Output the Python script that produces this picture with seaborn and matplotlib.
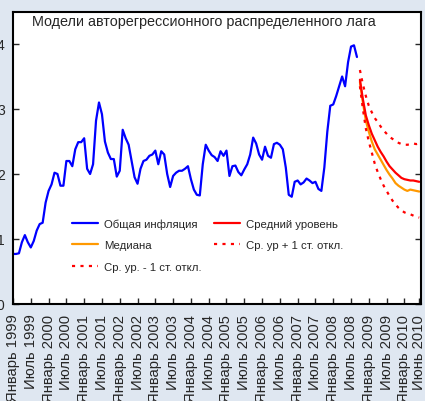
import numpy as np
import pandas as pd
import matplotlib
matplotlib.use("Agg")
import matplotlib.pyplot as plt
import seaborn as sns

# --- Данные (оценены по картинке) ---

month_names = ["Январь", "Июль"]
years = list(range(1999, 2011))

# Общая инфляция, январь 1999 - сентябрь 2008
total_inflation = [
    0.77, 0.77, 0.78, 0.95, 1.06, 0.95, 0.87, 0.97, 1.13, 1.23, 1.25, 1.56,
    1.74, 1.84, 2.02, 2.00, 1.82, 1.82, 2.20, 2.20, 2.12, 2.38, 2.49, 2.49,
    2.55, 2.08, 2.00, 2.15, 2.82, 3.10, 2.92, 2.50, 2.33, 2.23, 2.23, 1.96,
    2.05, 2.68, 2.55, 2.45, 2.20, 1.95, 1.85, 2.08, 2.20, 2.22, 2.28, 2.30,
    2.36, 2.15, 2.35, 2.30, 2.00, 1.80, 1.97, 2.02, 2.05, 2.05, 2.08, 2.12,
    1.92, 1.76, 1.68, 1.67, 2.15, 2.45, 2.36, 2.29, 2.26, 2.20, 2.35, 2.28,
    2.36, 1.97, 2.12, 2.13, 2.03, 1.98, 2.07, 2.15, 2.30, 2.56, 2.47, 2.30,
    2.22, 2.42, 2.28, 2.25, 2.46, 2.48, 2.45, 2.38, 2.10, 1.68, 1.65, 1.88,
    1.90, 1.84, 1.87, 1.93, 1.90, 1.86, 1.88, 1.77, 1.74, 2.10, 2.65, 3.05,
    3.07, 3.20, 3.35, 3.50, 3.35, 3.72, 3.96, 3.98, 3.80,
]

# Прогнозы, октябрь 2008 - июнь 2010
mean_level = [
    3.45, 3.15, 2.90, 2.75, 2.62, 2.52, 2.42, 2.34, 2.27, 2.19, 2.12,
    2.07, 2.02, 1.98, 1.94, 1.92, 1.91, 1.90, 1.90, 1.89, 1.88,
]
median_level = [
    3.42, 3.10, 2.82, 2.65, 2.50, 2.38, 2.30, 2.22, 2.14, 2.06, 1.99,
    1.93, 1.86, 1.82, 1.79, 1.76, 1.74, 1.76, 1.75, 1.74, 1.73,
]
upper_level = [
    3.60, 3.38, 3.20, 3.05, 2.95, 2.86, 2.80, 2.73, 2.67, 2.62, 2.57,
    2.54, 2.51, 2.48, 2.46, 2.45, 2.45, 2.46, 2.47, 2.46, 2.47,
]
lower_level = [
    3.35, 3.00, 2.70, 2.50, 2.33, 2.16, 2.03, 1.92, 1.82, 1.74, 1.66,
    1.59, 1.53, 1.48, 1.44, 1.41, 1.39, 1.38, 1.36, 1.34, 1.33,
]

# Подписи оси X: каждые полгода + июнь 2010
tick_pos = list(range(0, 133, 6)) + [137]
tick_labels = [f"{month_names[(p // 6) % 2]} {1999 + p // 12}" for p in range(0, 133, 6)] + ["Июнь 2010"]

# --- Таблицы ---
hist = pd.DataFrame({"month": np.arange(len(total_inflation)), "value": total_inflation})
fc_start = len(total_inflation)
fc = pd.DataFrame({
    "month": np.arange(fc_start, fc_start + len(mean_level)),
    "mean": mean_level,
    "median": median_level,
    "upper": upper_level,
    "lower": lower_level,
})

# --- График ---
sns.set_style("ticks")
plt.rcParams["font.family"] = ["Liberation Sans", "DejaVu Sans"]

fig = plt.figure(figsize=(4.25, 4.02), dpi=100)
fig.patch.set_facecolor("#dfe7f1")
ax = fig.add_axes([13 / 425, 97 / 402, 408 / 425, 292.5 / 402])
ax.set_facecolor("white")

dots = (0, (1.4, 2.4))
sns.lineplot(data=hist, x="month", y="value", ax=ax, color="#0000ff", lw=1.6,
             label="Общая инфляция")
sns.lineplot(data=fc, x="month", y="median", ax=ax, color="#ff9900", lw=1.6,
             label="Медиана")
sns.lineplot(data=fc, x="month", y="lower", ax=ax, color="#ff0000", lw=1.6,
             linestyle=dots, label="Ср. ур. - 1 ст. откл.")
sns.lineplot(data=fc, x="month", y="mean", ax=ax, color="#ff0000", lw=1.6,
             label="Средний уровень")
sns.lineplot(data=fc, x="month", y="upper", ax=ax, color="#ff0000", lw=1.6,
             linestyle=dots, label="Ср. ур + 1 ст. откл.")

ax.set_xlim(0, 137.6)
ax.set_ylim(0, 4.5)
ax.set_yticks([0, 1, 2, 3, 4])
ax.set_xticks(tick_pos)
ax.set_xticklabels(tick_labels, rotation=90, fontsize=10.6)
ax.tick_params(axis="y", labelsize=10, direction="in", length=4, width=1, right=True, pad=6)
ax.tick_params(axis="x", direction="in", length=4, width=1, pad=7)
ax.set_xlabel("")
ax.set_ylabel("")
for s in ax.spines.values():
    s.set_visible(True)
    s.set_color("black")
    s.set_linewidth(1.5)

ax.text(0.047, 0.966, "Модели авторегрессионного распределенного лага",
        transform=ax.transAxes, fontsize=10.4, va="center", ha="left")

ax.legend(loc="upper left", bbox_to_anchor=(0.145, 0.293), ncol=2, frameon=False,
          fontsize=8.2, handlelength=2.3, handletextpad=0.5, columnspacing=1.05,
          labelspacing=1.0, borderpad=0, borderaxespad=0)

fig.savefig("out.png", dpi=100, facecolor=fig.get_facecolor())
